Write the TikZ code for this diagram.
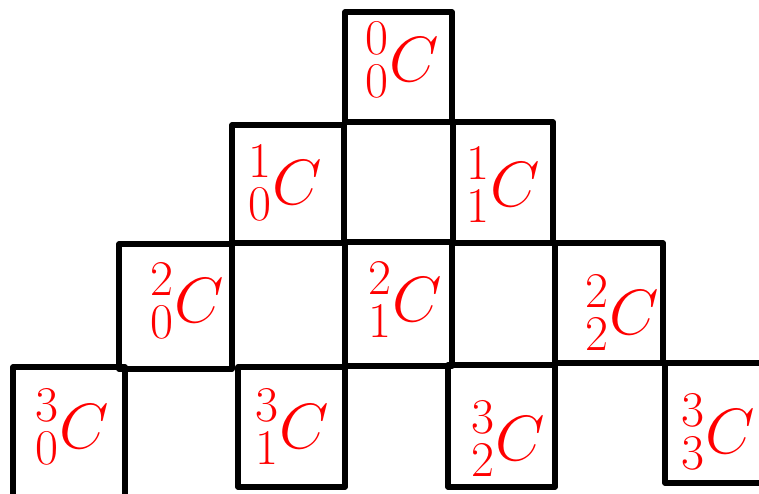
\RequirePackage{fix-cm}
\documentclass[tikz,border=0pt]{standalone}
\DeclareMathSizes{64}{64}{50}{36}
\begin{document}
\begin{tikzpicture}[x=1pt,y=1pt,
  cell/.style={draw=black,line width=5.5pt,line join=round},
  lab/.style={text=red,inner sep=0pt,font=\fontsize{64}{70}\selectfont}]
\useasboundingbox (0,0) rectangle (759,493);
\newcommand\cellbox[5]{\draw[cell] (#2,493-#3) rectangle (#4,493-#5) coordinate (#1);}
% boxes (pixel coordinates, y downward)
\cellbox{b00}{345}{12}{452}{122}
\cellbox{b10}{232}{125}{344}{243}
\cellbox{b11}{453}{122}{553}{243}
\cellbox{b20}{119}{244}{232}{369}
\cellbox{b21}{345}{242}{452}{366}
\cellbox{b22}{555}{243}{663}{363}
\cellbox{b30}{13}{367}{125}{500}
\cellbox{b31}{238}{367}{345}{487}
\cellbox{b32}{448}{365}{555}{487}
\cellbox{b33}{665}{363}{770}{483}
% labels
\node[lab] (l00) at (402,493-60) {$\displaystyle {}^{0}_{0}C$};
\node[lab] (l10) at (285,493-183) {$\displaystyle {}^{1}_{0}C$};
\node[lab] (l11) at (503,493-185) {$\displaystyle {}^{1}_{1}C$};
\node[lab] (l20) at (187,493-301) {$\displaystyle {}^{2}_{0}C$};
\node[lab] (l21) at (405,493-300) {$\displaystyle {}^{2}_{1}C$};
\node[lab] (l22) at (622,493-313) {$\displaystyle {}^{2}_{2}C$};
\node[lab] (l30) at (72,493-427) {$\displaystyle {}^{3}_{0}C$};
\node[lab] (l31) at (292,493-427) {$\displaystyle {}^{3}_{1}C$};
\node[lab] (l32) at (508,493-439) {$\displaystyle {}^{3}_{2}C$};
\node[lab] (l33) at (718,493-432) {$\displaystyle {}^{3}_{3}C$};
\end{tikzpicture}
\end{document}
